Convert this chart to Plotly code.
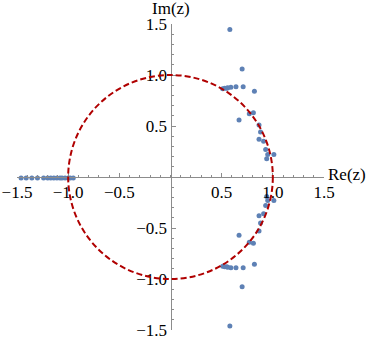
import plotly.graph_objects as go

# Roots
upper_re = [0.58, 0.70, 0.51, 0.53, 0.55, 0.56, 0.59, 0.64, 0.71, 0.82, 0.81, 0.77, 0.67,
            0.865, 0.88, 0.865, 0.91, 0.93, 0.95, 1.01, 0.94]
upper_im = [1.445, 1.06, 0.865, 0.87, 0.87, 0.875, 0.88, 0.885, 0.885, 0.84, 0.63, 0.62, 0.56,
            0.51, 0.44, 0.37, 0.35, 0.27, 0.22, 0.22, 0.18]
lower_re = [0.94, 0.95, 1.01, 0.93, 0.91, 0.865, 0.88, 0.865, 0.67, 0.77, 0.81, 0.82,
            0.51, 0.53, 0.55, 0.56, 0.59, 0.64, 0.71, 0.70, 0.58]
lower_im = [-0.19, -0.23, -0.23, -0.28, -0.36, -0.38, -0.45, -0.53, -0.57, -0.64, -0.65, -0.855,
            -0.875, -0.88, -0.88, -0.885, -0.89, -0.89, -0.89, -1.075, -1.46]
real_re = [-1.46, -1.41, -1.355, -1.30, -1.24, -1.20, -1.17, -1.14, -1.11, -1.08, -1.06,
           -1.03, -1.00, -0.98, -0.95]
real_im = [-0.01] * len(real_re)

tick_vals = [-1.5, -1.0, -0.5, 0.5, 1.0, 1.5]
tick_text = ["\u22121.5", "\u22121.0", "\u22120.5", "0.5", "1.0", "1.5"]

xs = upper_re + lower_re + real_re
ys = upper_im + lower_im + real_im

FONT = "Liberation Serif, Times New Roman, serif"
AXC = "#8c8c8c"

fig = go.Figure()
fig.add_trace(go.Scatter(x=xs, y=ys, mode="markers",
                         marker=dict(size=5, color="#5e81b5"),
                         showlegend=False, cliponaxis=False, hoverinfo="skip"))

fig.add_shape(type="circle", xref="x", yref="y", x0=-1, y0=-1, x1=1, y1=1,
              line=dict(color="#b00000", width=2, dash="6px,3px"), layer="above")

axis_common = dict(range=[-1.5, 1.5], anchor="free", position=0.5,
                   showline=True, linecolor=AXC, linewidth=1, automargin=False,
                   ticks="inside", ticklen=4, tickcolor=AXC, tickwidth=1,
                   tickmode="array", tickvals=tick_vals, ticktext=tick_text,
                   showgrid=False, zeroline=False,
                   tickfont=dict(family=FONT, size=17, color="black"),
                   minor=dict(dtick=0.1, tick0=0, ticks="inside", ticklen=2.5,
                              tickcolor=AXC, tickwidth=1, showgrid=False))

fig.update_xaxes(**axis_common)
fig.update_yaxes(**axis_common)

fig.add_annotation(x=0, y=1.5, xref="x", yref="y", text="Im(z)", showarrow=False,
                   yanchor="middle", yshift=16, font=dict(family=FONT, size=17, color="black"))
fig.add_annotation(x=1.5, y=0, xref="x", yref="y", text="Re(z)", showarrow=False,
                   xanchor="left", xshift=2, yshift=3, font=dict(family=FONT, size=17, color="black"))

fig.update_layout(width=374, height=341, autosize=False,
                  font=dict(family=FONT, size=17, color="black"),
                  margin=dict(l=17, r=50, t=24, b=11, autoexpand=False),
                  plot_bgcolor="white", paper_bgcolor="white")

fig.write_html("out.html", config={"displayModeBar": False},
               post_script="document.body.style.margin='0';document.body.style.overflow='hidden';")
